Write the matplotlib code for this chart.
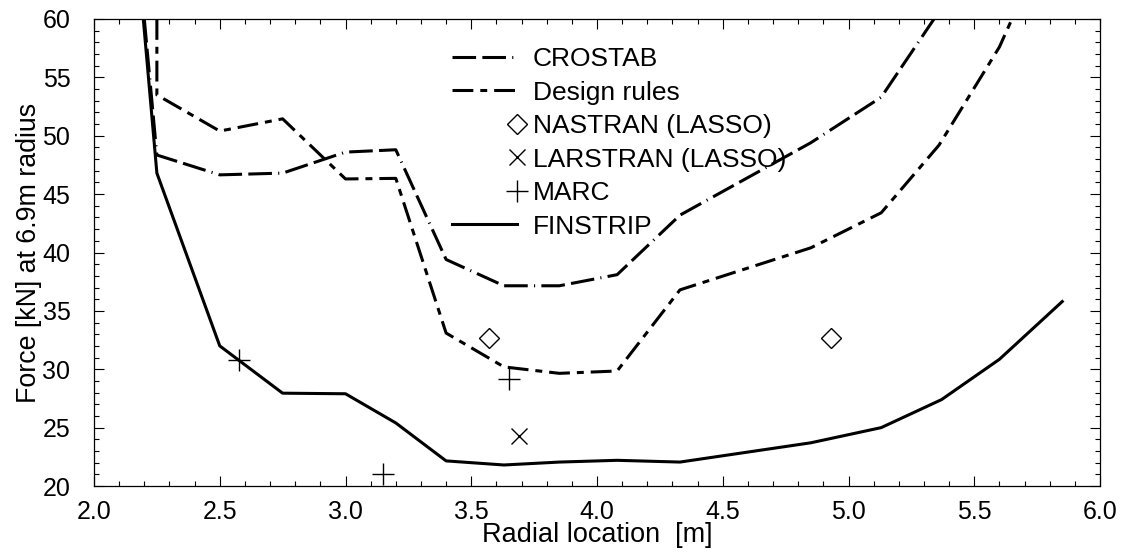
import numpy as np
import matplotlib
matplotlib.use("Agg")
import matplotlib.pyplot as plt
from matplotlib.ticker import MultipleLocator, FormatStrFormatter
from matplotlib.lines import Line2D
from matplotlib.legend_handler import HandlerLine2D

plt.rcParams['font.family'] = ['Liberation Sans', 'DejaVu Sans']
plt.rcParams['lines.scale_dashes'] = False

# Data
finstrip_x = [2.196, 2.25, 2.50, 2.75, 3.00, 3.20, 3.40, 3.63, 3.85, 4.08, 4.33, 4.85, 5.13, 5.37, 5.60, 5.85]
finstrip_y = [60.0, 46.8, 32.0, 27.95, 27.9, 25.4, 22.15, 21.8, 22.05, 22.2, 22.05, 23.7, 25.0, 27.4, 30.85, 35.8]

crostab_x = [2.20, 2.25, 2.50, 2.75, 3.00, 3.20, 3.40, 3.63, 3.85, 4.08, 4.33, 4.85, 5.13, 5.34]
crostab_y = [60.0, 48.35, 46.65, 46.8, 48.6, 48.8, 39.4, 37.15, 37.15, 38.1, 43.2, 49.4, 53.3, 60.0]

design_x = [2.25, 2.25, 2.50, 2.75, 3.00, 3.20, 3.40, 3.63, 3.85, 4.08, 4.33, 4.85, 5.13, 5.36, 5.60, 5.65]
design_y = [60.0, 53.5, 50.4, 51.45, 46.3, 46.35, 33.1, 30.2, 29.65, 29.85, 36.8, 40.4, 43.4, 49.2, 57.6, 60.0]

nastran_x = [3.57, 4.93]
nastran_y = [32.7, 32.7]
larstran_x = [3.69]
larstran_y = [24.25]
marc_x = [2.575, 3.15, 3.65]
marc_y = [30.8, 21.0, 29.2]


class EndMarkerHandler(HandlerLine2D):
    # legend handle: line over the full length, marker at its right end
    def create_artists(self, legend, orig_handle, xdescent, ydescent,
                       width, height, fontsize, trans):
        x0, x1 = -xdescent, -xdescent + width
        y = (height - ydescent) / 2
        leg_line = Line2D([x0, x1], [y, y])
        self.update_prop(leg_line, orig_handle, legend)
        leg_line.set_markevery([1])
        leg_line.set_transform(trans)
        return [leg_line]


fig = plt.figure(figsize=(11.29, 5.6), dpi=100)
ax = fig.add_axes([94 / 1129, 1 - 486 / 560, 1006 / 1129, 467 / 560])

lw = 2.2
ax.plot(crostab_x, crostab_y, color='black', lw=lw,
        linestyle=(0, (17, 4.5, 17, 4.5, 0.8, 4.5)), label='CROSTAB')
ax.plot(design_x, design_y, color='black', lw=lw,
        linestyle=(0, (15, 5, 5, 5)), label='Design rules')
ax.plot(nastran_x, nastran_y, linestyle='none', marker='D', ms=10.5,
        mfc='none', mec='black', mew=1.0, label='NASTRAN (LASSO)')
ax.plot(larstran_x, larstran_y, linestyle='none', marker='x', ms=11,
        color='black', mew=1.0, label='LARSTRAN (LASSO)')
ax.plot(marc_x, marc_y, linestyle='none', marker='+', ms=16,
        color='black', mew=1.0, label='MARC')
ax.plot(finstrip_x, finstrip_y, color='black', lw=lw, label='FINSTRIP')

ax.set_xlim(2.0, 6.0)
ax.set_ylim(20, 60)
ax.xaxis.set_major_locator(MultipleLocator(0.5))
ax.xaxis.set_minor_locator(MultipleLocator(0.1))
ax.yaxis.set_major_locator(MultipleLocator(5))
ax.yaxis.set_minor_locator(MultipleLocator(1))
ax.xaxis.set_major_formatter(FormatStrFormatter('%.1f'))

ax.tick_params(which='both', direction='in', top=True, right=True,
               width=0.8, labelsize=18, colors='black')
ax.tick_params(which='major', length=7)
ax.tick_params(which='minor', length=3.6)
ax.tick_params(axis='x', which='major', pad=10)
ax.tick_params(axis='y', which='major', pad=17)
for sp in ax.spines.values():
    sp.set_linewidth(0.9)

ax.set_xlabel('Radial location  [m]', fontsize=19.5, labelpad=-1)
ax.set_ylabel('Force [kN] at 6.9m radius', fontsize=19.3, labelpad=0)

leg = ax.legend(loc='upper left', bbox_to_anchor=(0.356, 0.94), frameon=False,
                fontsize=19, handlelength=2.45, handletextpad=0.6,
                labelspacing=0.36, borderpad=0, borderaxespad=0,
                handler_map={Line2D: EndMarkerHandler()})

fig.savefig('out.png', dpi=100)
